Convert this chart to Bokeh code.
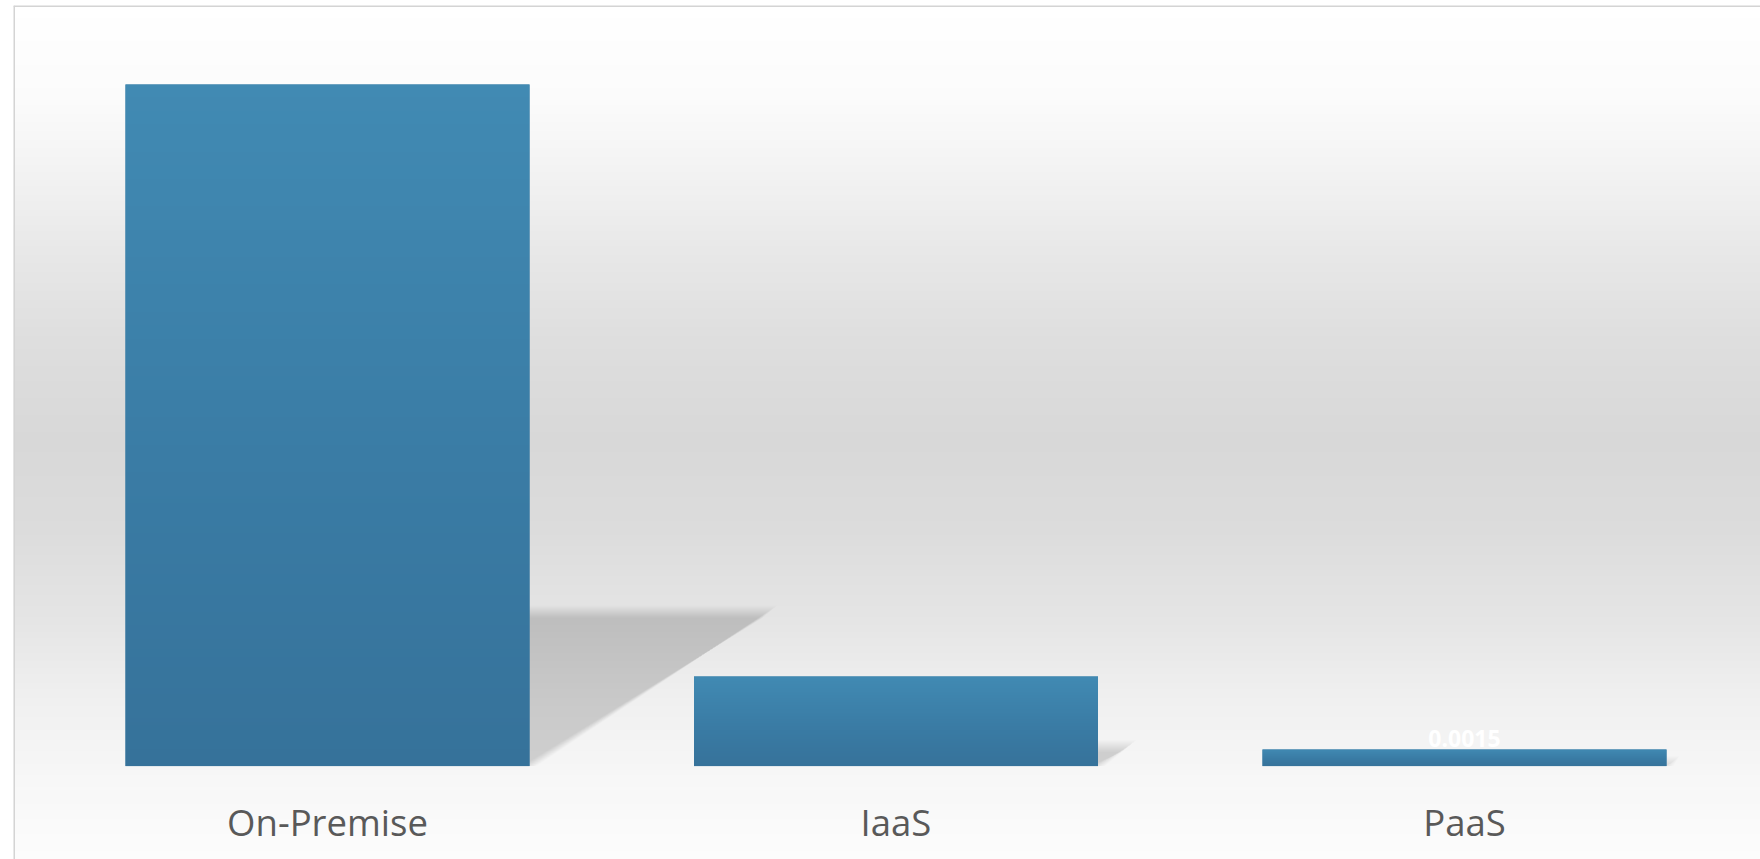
import numpy as np
from bokeh.plotting import figure
from bokeh.models import Range1d, Span
from bokeh.core.properties import value
from bokeh.embed import file_html
from bokeh.resources import INLINE

# ---- data ----
categories = ["On-Premise", "IaaS", "PaaS"]
values = [0.0616, 0.0081, 0.0015]
x_pos = [0, 1, 2]
labeled = [False, False, True]

# ---- layout constants ----
W, H = 1760, 859
ML, MT = 13, 5
FW, FH = W - ML, H - MT
PX_X = 568.5          # pixels per category
PX_Y = 681.6 / 0.0616 # pixels per value unit
BASE_PX = 765.6       # baseline (screen y)
FIRST_PX = 327.0      # first category centre (screen x)
BAR_W = 404 / PX_X

x0 = -(FIRST_PX - ML) / PX_X
x1 = x0 + FW / PX_X
y1 = (BASE_PX - MT) / PX_Y
y0 = -(H - BASE_PX) / PX_Y

p = figure(width=W, height=H, output_backend="svg", toolbar_location=None,
           x_range=Range1d(x0, x1), y_range=Range1d(y0, y1),
           x_axis_type=None, y_axis_type=None,
           min_border_left=ML, min_border_top=MT, min_border_right=0, min_border_bottom=0)
p.grid.visible = False
p.outline_line_color = None
p.background_fill_color = "white"
p.border_fill_color = "white"


def hex2rgb(h):
    h = h.lstrip("#")
    return [int(h[i:i + 2], 16) for i in (0, 2, 4)]


def gradient(stops, n=400):
    ts = np.array([s[0] for s in stops])
    cols = np.array([hex2rgb(s[1]) for s in stops], dtype=float)
    t = np.linspace(0, 1, n)
    img = np.empty((n, 1), dtype=np.uint32)
    v = img.view(dtype=np.uint8).reshape((n, 1, 4))
    for c in range(3):
        v[:, 0, c] = np.interp(t, ts, cols[:, c]).round().astype(np.uint8)
    v[:, 0, 3] = 255
    return img


# background vertical gradient (stops given by screen y)
bg_stops_px = [(5, "#ffffff"), (100, "#fbfbfb"), (160, "#f4f4f4"), (250, "#e8e8e8"),
               (340, "#dedede"), (440, "#d8d8d8"), (530, "#dcdcdc"), (620, "#e5e5e5"),
               (700, "#f0f0f0"), (780, "#f7f7f7"), (859, "#fcfcfc")]
bg = gradient(sorted([((H - y) / FH, c) for y, c in bg_stops_px]))
bgr = p.image_rgba(image=[bg], x=x0, y=y0, dw=x1 - x0, dh=y1 - y0)
bgr.level = "underlay"

# border lines (left & top)
p.add_layout(Span(location=x0 + 0.5 / PX_X, dimension="height", line_color="#d4d4d4", line_width=2))
p.add_layout(Span(location=y1 - 0.5 / PX_Y, dimension="width", line_color="#d4d4d4", line_width=2))

# perspective shadows (layered to imitate blur)
SH_K = 0.2268
DX_K = 0.3536 * PX_Y / PX_X
N_LAYERS = 13
for e in np.linspace(-1, 1, N_LAYERS):
    xs, ys = [], []
    for xc, v in zip(x_pos, values):
        L, R = xc - BAR_W / 2, xc + BAR_W / 2
        s = e * 7 / PX_X
        sh = max(SH_K * v + e * 6 / PX_Y, 0)
        dx = DX_K * v
        xs.append([L, R + s, R + dx + s, L + dx])
        ys.append([0, 0, sh, sh])
    p.patches(xs=xs, ys=ys, fill_color="black", fill_alpha=0.0135, line_color=None)

# bars
p.vbar(x=x_pos, top=values, width=BAR_W, bottom=0, fill_color="#3c7fa6", line_color=None)
bar_grad = gradient([(0, "#36729a"), (0.45, "#3a7ca5"), (1, "#418ab3")], 200)
p.image_rgba(image=[bar_grad] * len(values), x=[xc - BAR_W / 2 for xc in x_pos],
             y=[0] * len(values), dw=[BAR_W] * len(values), dh=values)

# category labels
p.text(x=x_pos, y=[0] * len(values), text=categories, y_offset=56,
       text_align="center", text_baseline="alphabetic",
       text_font=value("Open Sans"), text_font_size="36.5px", text_color="#595959")

# value label
lx = [x for x, f in zip(x_pos, labeled) if f]
ly = [v for v, f in zip(values, labeled) if f]
p.text(x=lx, y=ly, text=[f"{v:g}" for v in ly], y_offset=-11,
       text_align="center", text_baseline="alphabetic",
       text_font=value("Open Sans"), text_font_style="bold",
       text_font_size="23px", text_color="white")

open("out.html", "w").write(file_html(p, INLINE))
